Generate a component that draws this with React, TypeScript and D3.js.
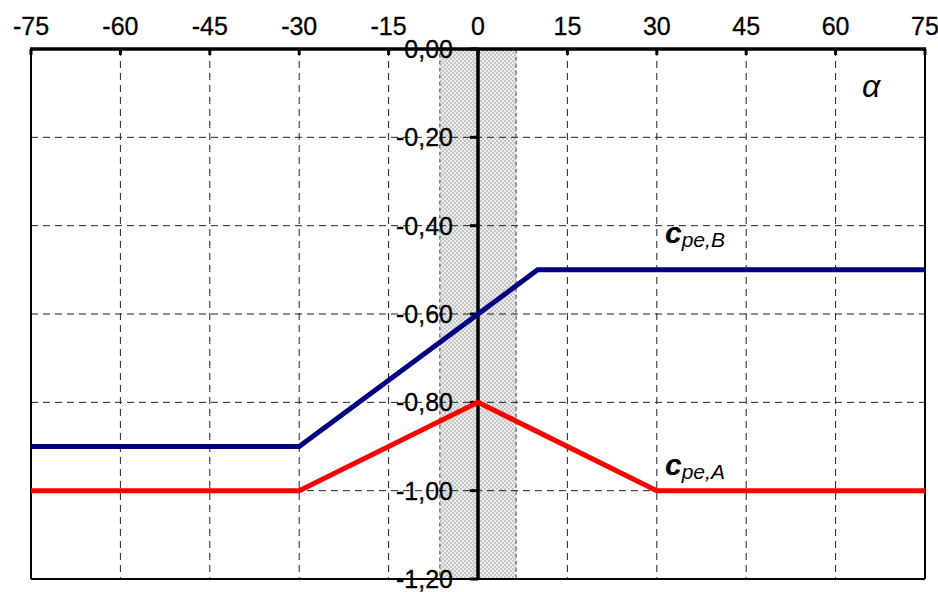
import React from "react";
import * as d3 from "d3";

const xTicks = [-75, -60, -45, -30, -15, 0, 15, 30, 45, 60, 75];
const yTicks = [0, -0.2, -0.4, -0.6, -0.8, -1.0, -1.2];
const yTickLabels = ["0,00", "-0,20", "-0,40", "-0,60", "-0,80", "-1,00", "-1,20"];
const alphaB = [-75, -30, 10, 75];
const cpeB = [-0.9, -0.9, -0.5, -0.5];
const alphaA = [-75, -30, 0, 30, 75];
const cpeA = [-1.0, -1.0, -0.8, -1.0, -1.0];
const bandRange = [-6.4, 6.4];

export default function App() {
  const W = 938, H = 592;
  const x = d3.scaleLinear().domain([-75, 75]).range([31, 925]);
  const y = d3.scaleLinear().domain([0, -1.2]).range([49, 579]);
  const line = d3.line<[number, number]>().x(d => x(d[0])).y(d => y(d[1]));
  const bPts = alphaB.map((a, i) => [a, cpeB[i]] as [number, number]);
  const aPts = alphaA.map((a, i) => [a, cpeA[i]] as [number, number]);
  const font = "'Liberation Sans', Arial, sans-serif";
  return (
    <svg width={W} height={H} style={{ position: "absolute", left: 0, top: 0, background: "#fff" }}>
      <defs>
        <pattern id="dots" width="4" height="4" patternUnits="userSpaceOnUse">
          <rect width="4" height="4" fill="#ececec" />
          <circle cx="1" cy="1" r="0.9" fill="#b4b4b4" />
          <circle cx="3" cy="3" r="0.9" fill="#b4b4b4" />
        </pattern>
      </defs>
      <rect x={0} y={0} width={W} height={H} fill="#fff" />
      {/* band */}
      <rect x={x(bandRange[0])} y={y(0)} width={x(bandRange[1]) - x(bandRange[0])} height={y(-1.2) - y(0)}
        fill="url(#dots)" stroke="#444" strokeDasharray="4,3" strokeWidth={1} />
      {/* grid */}
      {xTicks.filter(t => t !== -75 && t !== 75 && t !== 0).map(t => (
        <line key={"gx" + t} x1={x(t)} x2={x(t)} y1={y(0)} y2={y(-1.2)} stroke="#222" strokeWidth={1} strokeDasharray="7,5" />
      ))}
      {yTicks.filter(t => t !== 0 && t !== -1.2).map(t => (
        <line key={"gy" + t} x1={x(-75)} x2={x(75)} y1={y(t)} y2={y(t)} stroke="#222" strokeWidth={1} strokeDasharray="7,5" />
      ))}
      {/* borders */}
      <line x1={x(-75)} x2={x(-75)} y1={y(0)} y2={y(-1.2)} stroke="#000" strokeWidth={2} />
      <line x1={x(75)} x2={x(75)} y1={y(0)} y2={y(-1.2)} stroke="#000" strokeWidth={2} />
      <line x1={x(-75)} x2={x(75)} y1={y(-1.2)} y2={y(-1.2)} stroke="#000" strokeWidth={2} />
      <line x1={x(-75) - 1} x2={x(75) + 1} y1={y(0)} y2={y(0)} stroke="#000" strokeWidth={3.5} />
      {/* top ticks */}
      {xTicks.map(t => (
        <g key={"xt" + t}>
          <line x1={x(t)} x2={x(t)} y1={y(0)} y2={y(0) + 6} stroke="#000" strokeWidth={3} />
          <text x={x(t)} y={35} textAnchor="middle" fontFamily={font} fontSize={25} fill="#000" stroke="#000" strokeWidth={0.3}>{t}</text>
        </g>
      ))}
      {/* y axis at 0 */}
      <line x1={x(0)} x2={x(0)} y1={y(0)} y2={y(-1.2)} stroke="#000" strokeWidth={3.5} />
      {yTicks.map((t, i) => (
        <g key={"yt" + t}>
          <line x1={x(0) - 8} x2={x(0)} y1={y(t)} y2={y(t)} stroke="#000" strokeWidth={3} />
          <text x={453} y={y(t) + 9} textAnchor="end" fontFamily={font} fontSize={25} fill="#000" stroke="#000" strokeWidth={0.3}>{yTickLabels[i]}</text>
        </g>
      ))}
      {/* series */}
      <path d={line(bPts) || ""} fill="none" stroke="#000080" strokeWidth={5} strokeLinejoin="miter" />
      <path d={line(aPts) || ""} fill="none" stroke="#ff0000" strokeWidth={5} strokeLinejoin="miter" />
      {/* labels */}
      <text x={862} y={97} fontFamily={font} fontSize={32} fontStyle="italic" fill="#000">α</text>
      <text x={665} y={243} fontFamily={font} fill="#000" fontStyle="italic">
        <tspan fontSize={30} fontWeight="bold">c</tspan>
        <tspan fontSize={21} dy={4}>pe,B</tspan>
      </text>
      <text x={665} y={475} fontFamily={font} fill="#000" fontStyle="italic">
        <tspan fontSize={30} fontWeight="bold">c</tspan>
        <tspan fontSize={21} dy={4}>pe,A</tspan>
      </text>
    </svg>
  );
}
